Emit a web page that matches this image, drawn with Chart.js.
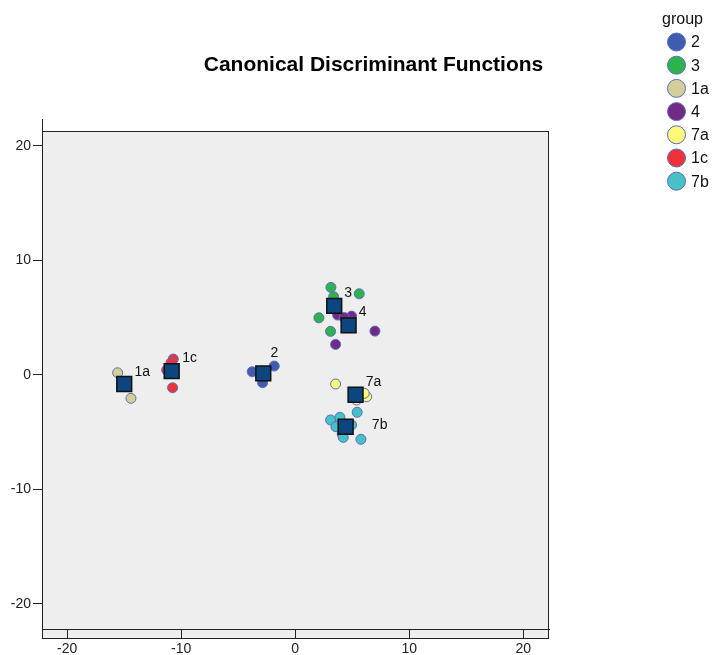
<!DOCTYPE html>
<html>
<head>
<meta charset="utf-8">
<title>Canonical Discriminant Functions</title>
<script src="https://cdn.jsdelivr.net/npm/chart.js@4.4.1/dist/chart.umd.min.js"></script>
<style>
  html, body { margin: 0; padding: 0; background: #fff; }
  #wrap { width: 714px; height: 655px; }
</style>
</head>
<body>
<div id="wrap"><canvas id="discChart" width="714" height="655"></canvas></div>
<script>
// groups in legend order
const groups = ['2', '3', '1a', '4', '7a', '1c', '7b'];
const groupColors = ['#3f5cb0', '#2db34b', '#d4cf99', '#732a86', '#fcf97a', '#ee3239', '#47c1c6'];

// Function 1 / Function 2 scores per group
const g2F1 = [-3.77, -1.84, -2.86];
const g2F2 = [0.27, 0.77, -0.69];
const g3F1 = [3.13, 5.61, 3.37, 2.08, 3.10];
const g3F2 = [7.64, 7.08, 6.82, 4.98, 3.80];
const g1aF1 = [-15.57, -14.40, -15.0];
const g1aF2 = [0.18, -2.05, -0.6];
const g4F1 = [3.72, 4.94, 6.99, 3.54, 4.3];
const g4F2 = [5.22, 5.13, 3.82, 2.66, 5.0];
const g7aF1 = [3.54, 6.26, 6.05, 5.38];
const g7aF2 = [-0.80, -1.91, -1.61, -2.20];
const g1cF1 = [-10.69, -10.89, -11.27, -10.75];
const g1cF2 = [1.38, 1.06, 0.42, -1.13];
const g7bF1 = [5.43, 3.10, 3.92, 3.57, 4.94, 4.12, 4.21, 5.76];
const g7bF2 = [-3.27, -3.94, -3.71, -4.53, -4.38, -5.17, -5.46, -5.63];

const groupF1 = [g2F1, g3F1, g1aF1, g4F1, g7aF1, g1cF1, g7bF1];
const groupF2 = [g2F2, g3F2, g1aF2, g4F2, g7aF2, g1cF2, g7bF2];

// group centroids
const centroidF1 = [-2.80, 3.42, -14.99, 4.68, 5.29, -10.83, 4.42];
const centroidF2 = [0.13, 6.03, -0.80, 4.32, -1.74, 0.33, -4.53];

// centroid label offsets (px) from the centroid
const labelDx = [11, 14, 18, 14, 18, 18, 34];
const labelDy = [-20, -13, -12, -13, -13, -13, -2];

const tickValues = [-20, -10, 0, 10, 20];

const FONT = "'Liberation Sans', Arial, sans-serif";

let DiscChart = function () {
    let _build = function () {
        var datasets = groups.map(function (g, i) {
            return {
                label: g,
                data: groupF1[i].map(function (v, j) { return { x: v, y: groupF2[i][j] }; }),
                backgroundColor: groupColors[i],
                borderColor: '#5a6cc0',
                borderWidth: 1,
                pointRadius: 5,
                pointStyle: 'circle',
                order: groups.length - i
            };
        });
        datasets.push({
            label: 'Group Centroid',
            data: centroidF1.map(function (v, j) { return { x: v, y: centroidF2[j] }; }),
            backgroundColor: '#0c4680',
            borderColor: '#111',
            borderWidth: 1.5,
            pointRadius: 10.5,
            pointStyle: 'rect',
            order: -1
        });

        // gray plot box, title, legend and centroid labels
        var decor = {
            id: 'decor',
            beforeDraw: function (chart) {
                var ctx = chart.ctx, a = chart.chartArea;
                ctx.save();
                ctx.fillStyle = '#eeeeee';
                ctx.fillRect(a.left, a.top, a.right - a.left, a.bottom - a.top + 9);
                ctx.restore();
            },
            afterDraw: function (chart) {
                var ctx = chart.ctx, a = chart.chartArea;
                var xs = chart.scales.x, ys = chart.scales.y;
                ctx.save();
                ctx.strokeStyle = '#222';
                ctx.lineWidth = 1;
                ctx.strokeRect(a.left + 0.5, a.top + 0.5, a.right - a.left - 1, a.bottom - a.top + 9);
                ctx.beginPath();
                ctx.moveTo(a.left + 0.5, a.top - 12);
                ctx.lineTo(a.left + 0.5, a.top);
                ctx.stroke();

                // title
                ctx.fillStyle = '#000';
                ctx.font = 'bold 21px ' + FONT;
                ctx.textAlign = 'center';
                ctx.textBaseline = 'middle';
                ctx.fillText('Canonical Discriminant Functions', 373.5, 65);

                // centroid labels
                ctx.font = '14px ' + FONT;
                ctx.fillStyle = '#111';
                groups.forEach(function (g, i) {
                    var px = xs.getPixelForValue(centroidF1[i]);
                    var py = ys.getPixelForValue(centroidF2[i]);
                    ctx.fillText(g, px + labelDx[i], py + labelDy[i]);
                });

                // legend
                ctx.textAlign = 'left';
                ctx.font = '16px ' + FONT;
                ctx.fillStyle = '#111';
                ctx.fillText('group', 662, 20);
                groups.forEach(function (g, i) {
                    var cy = 42 + i * 23.2;
                    ctx.beginPath();
                    ctx.arc(676.5, cy, 9, 0, Math.PI * 2);
                    ctx.fillStyle = groupColors[i];
                    ctx.fill();
                    ctx.strokeStyle = '#5a6cc0';
                    ctx.lineWidth = 1;
                    ctx.stroke();
                    ctx.fillStyle = '#111';
                    ctx.fillText(g, 691, cy + 1);
                });
                ctx.restore();
            }
        };

        var setTicks = function (scale) {
            scale.ticks = tickValues.map(function (v) { return { value: v }; });
        };

        var ctx = document.getElementById('discChart').getContext('2d');
        new Chart(ctx, {
            type: 'scatter',
            data: { datasets: datasets },
            options: {
                responsive: false,
                animation: false,
                devicePixelRatio: 1,
                layout: { padding: { top: 131, right: 165, left: 0, bottom: 0 } },
                plugins: {
                    legend: { display: false },
                    title: { display: false },
                    tooltip: { enabled: false }
                },
                scales: {
                    x: {
                        type: 'linear',
                        min: -22.2,
                        max: 22.25,
                        afterBuildTicks: setTicks,
                        afterFit: function (scale) { scale.height = 26; },
                        grid: { display: true, drawOnChartArea: false, drawTicks: true, tickLength: 9, color: '#222' },
                        border: { display: true, color: '#222', width: 1 },
                        ticks: { color: '#222', padding: 3, maxRotation: 0, font: { size: 14, family: FONT } }
                    },
                    y: {
                        type: 'linear',
                        min: -22.2,
                        max: 21.3,
                        afterBuildTicks: setTicks,
                        afterFit: function (scale) { scale.width = 42; },
                        grid: { display: true, drawOnChartArea: false, drawTicks: true, tickLength: 9, color: '#222' },
                        border: { display: true, color: '#222', width: 1 },
                        ticks: { color: '#222', padding: 2, font: { size: 14, family: FONT } }
                    }
                }
            },
            plugins: [decor]
        });
    };
    return {
        init: () => {
            _build();
        }
    }
}();
document.addEventListener('DOMContentLoaded', function () {
    DiscChart.init();
});
</script>
</body>
</html>
